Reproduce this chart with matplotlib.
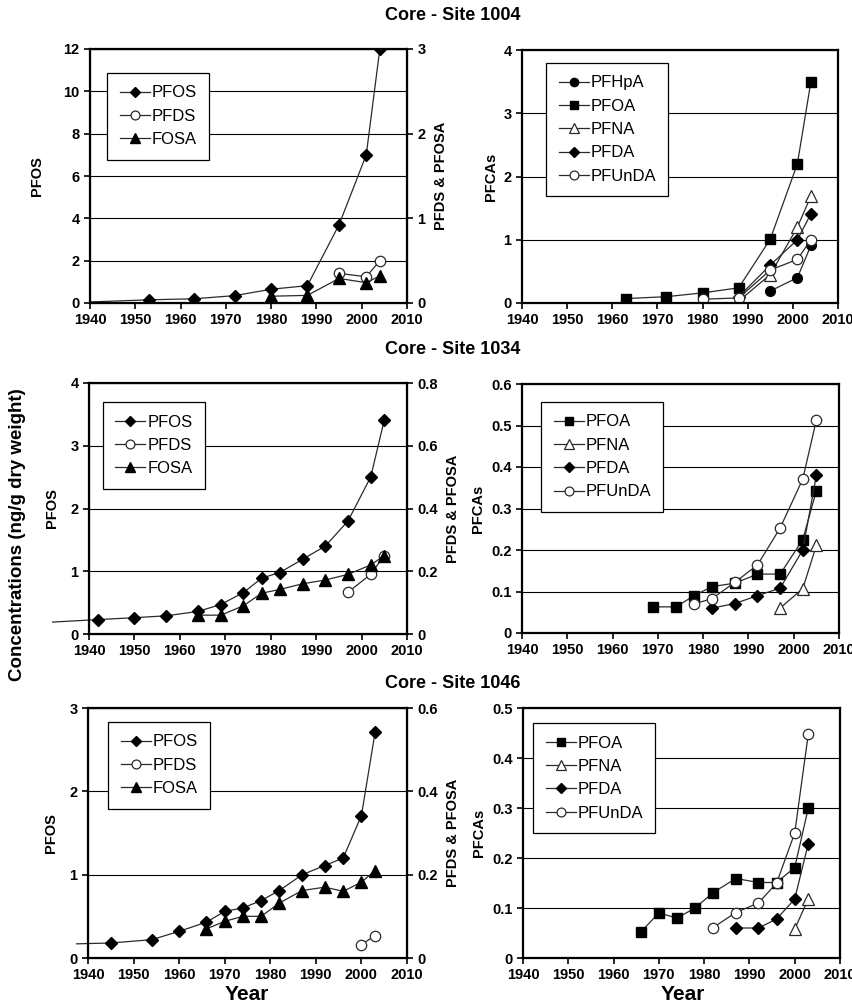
import matplotlib
matplotlib.use("Agg")
import matplotlib.pyplot as plt
from matplotlib.ticker import FuncFormatter

plt.rcParams['font.family'] = ['Liberation Sans', 'DejaVu Sans']

# ---- Site 1004 ----
yr_1004_pfos = [1953, 1963, 1972, 1980, 1988, 1995, 2001, 2004]
pfos_1004 = [0.15, 0.2, 0.35, 0.65, 0.82, 3.7, 7.0, 12.0]
lead_1004 = ([1940, 1953], [0.05, 0.15])
yr_1004_pfds = [1995, 2001, 2004]
pfds_1004 = [0.35, 0.31, 0.5]
yr_1004_fosa = [1980, 1988, 1995, 2001, 2004]
fosa_1004 = [0.08, 0.09, 0.29, 0.24, 0.32]

yr_1004_pfhpa = [1995, 2001, 2004]
pfhpa_1004 = [0.19, 0.4, 0.91]
yr_1004_pfoa = [1963, 1972, 1980, 1988, 1995, 2001, 2004]
pfoa_1004 = [0.07, 0.1, 0.16, 0.24, 1.01, 2.2, 3.5]
yr_1004_pfna = [1988, 1995, 2001, 2004]
pfna_1004 = [0.03, 0.45, 1.2, 1.69]
yr_1004_pfda = [1988, 1995, 2001, 2004]
pfda_1004 = [0.1, 0.6, 1.0, 1.41]
yr_1004_pfunda = [1980, 1988, 1995, 2001, 2004]
pfunda_1004 = [0.06, 0.08, 0.52, 0.69, 1.0]

# ---- Site 1034 ----
yr_1034_pfos = [1942, 1950, 1957, 1964, 1969, 1974, 1978, 1982, 1987, 1992, 1997, 2002, 2005]
pfos_1034 = [0.23, 0.26, 0.29, 0.36, 0.47, 0.66, 0.89, 0.98, 1.19, 1.4, 1.8, 2.5, 3.41]
lead_1034 = ([1932, 1942], [0.19, 0.23])
yr_1034_pfds = [1997, 2002, 2005]
pfds_1034 = [0.133, 0.19, 0.25]
yr_1034_fosa = [1964, 1969, 1974, 1978, 1982, 1987, 1992, 1997, 2002, 2005]
fosa_1034 = [0.06, 0.06, 0.09, 0.13, 0.142, 0.16, 0.172, 0.19, 0.22, 0.25]

yr_1034_pfoa = [1969, 1974, 1978, 1982, 1987, 1992, 1997, 2002, 2005]
pfoa_1034 = [0.063, 0.063, 0.09, 0.112, 0.12, 0.142, 0.142, 0.225, 0.343]
yr_1034_pfna = [1997, 2002, 2005]
pfna_1034 = [0.06, 0.107, 0.211]
yr_1034_pfda = [1982, 1987, 1992, 1997, 2002, 2005]
pfda_1034 = [0.06, 0.071, 0.09, 0.108, 0.2, 0.38]
yr_1034_pfunda = [1978, 1982, 1987, 1992, 1997, 2002, 2005]
pfunda_1034 = [0.07, 0.083, 0.122, 0.164, 0.253, 0.371, 0.513]

# ---- Site 1046 ----
yr_1046_pfos = [1945, 1954, 1960, 1966, 1970, 1974, 1978, 1982, 1987, 1992, 1996, 2000, 2003]
pfos_1046 = [0.18, 0.22, 0.32, 0.43, 0.56, 0.6, 0.69, 0.81, 1.0, 1.11, 1.2, 1.71, 2.71]
lead_1046 = ([1937.5, 1945], [0.17, 0.18])
yr_1046_pfds = [2000, 2003]
pfds_1046 = [0.032, 0.054]
yr_1046_fosa = [1966, 1970, 1974, 1978, 1982, 1987, 1992, 1996, 2000, 2003]
fosa_1046 = [0.07, 0.088, 0.1, 0.1, 0.132, 0.162, 0.17, 0.16, 0.182, 0.21]

yr_1046_pfoa = [1966, 1970, 1974, 1978, 1982, 1987, 1992, 1996, 2000, 2003]
pfoa_1046 = [0.052, 0.09, 0.08, 0.1, 0.131, 0.159, 0.151, 0.151, 0.181, 0.3]
yr_1046_pfna = [2000, 2003]
pfna_1046 = [0.058, 0.118]
yr_1046_pfda = [1987, 1992, 1996, 2000, 2003]
pfda_1046 = [0.06, 0.06, 0.078, 0.118, 0.229]
yr_1046_pfunda = [1982, 1987, 1992, 1996, 2000, 2003]
pfunda_1046 = [0.061, 0.091, 0.11, 0.15, 0.25, 0.448]

W, H = 853, 1008
LC = '#2a2a2a'

# marker styles
sty = {
    'PFOS':   dict(marker='D', ms=6, mfc='black', mec='black'),
    'PFDS':   dict(marker='o', ms=7.5, mfc='white', mec=LC, mew=0.9),
    'FOSA':   dict(marker='^', ms=8, mfc='black', mec='black'),
    'PFHpA':  dict(marker='o', ms=7, mfc='black', mec='black'),
    'PFOA':   dict(marker='s', ms=7.5, mfc='black', mec='black'),
    'PFNA':   dict(marker='^', ms=8, mfc='white', mec=LC, mew=0.9),
    'PFDA':   dict(marker='D', ms=6, mfc='black', mec='black'),
    'PFUnDA': dict(marker='o', ms=7.5, mfc='white', mec=LC, mew=0.9),
}


def box(x0, y0, x1, y1):
    return [x0 / W, 1 - y1 / H, (x1 - x0) / W, (y1 - y0) / H]


fmt = FuncFormatter(lambda v, p: '%g' % round(v, 3))


def style_ax(ax, ymax, ystep):
    ax.set_xlim(1940, 2010)
    ax.set_ylim(0, ymax)
    ax.set_xticks(range(1940, 2011, 10))
    n = int(round(ymax / ystep))
    ax.set_yticks([i * ystep for i in range(n + 1)])
    ax.yaxis.set_major_formatter(fmt)
    ax.grid(axis='y', color='black', lw=0.8)
    ax.set_axisbelow(True)
    for s in ax.spines.values():
        s.set_linewidth(1.6)
    ax.tick_params(direction='out', length=4, width=1.2, labelsize=10.5)
    for lab in ax.get_xticklabels() + ax.get_yticklabels():
        lab.set_fontweight('bold')


def line(ax, x, y, name, label=None):
    return ax.plot(x, y, color=LC, lw=0.9, label=label, **sty[name])[0]


def legend(ax, handles, lx, ly):
    lg = ax.legend(handles=handles, loc='upper left', bbox_to_anchor=(lx, ly),
                   borderaxespad=0, fancybox=False, edgecolor='black',
                   framealpha=1, fontsize=12, handlelength=1.8,
                   handletextpad=0.1, labelspacing=0.5, borderpad=0.75)
    lg.get_frame().set_linewidth(0.9)
    for h in lg.legend_handles:
        h.set_markersize(h.get_markersize() * 0.85)


fig = plt.figure(figsize=(W / 100, H / 100), dpi=100)


def left_panel(pos, ymax, ystep, rmax, rstep, yr_pfos, pfos, lead, yr_pfds, pfds,
               yr_fosa, fosa, lx, ly, lpad):
    ax = fig.add_axes(box(*pos))
    style_ax(ax, ymax, ystep)
    ax.plot(lead[0], lead[1], color=LC, lw=0.9, clip_on=False)
    h1 = line(ax, yr_pfos, pfos, 'PFOS', 'PFOS')
    ax2 = ax.twinx()
    ax2.set_ylim(0, rmax)
    n = int(round(rmax / rstep))
    ax2.set_yticks([i * rstep for i in range(n + 1)])
    ax2.yaxis.set_major_formatter(fmt)
    ax2.tick_params(direction='out', length=4, width=1.2, labelsize=10.5)
    for lab in ax2.get_yticklabels():
        lab.set_fontweight('bold')
    h2 = line(ax2, yr_pfds, pfds, 'PFDS', 'PFDS')
    h3 = line(ax2, yr_fosa, fosa, 'FOSA', 'FOSA')
    ax.set_ylabel('PFOS', fontsize=10.5, fontweight='bold', labelpad=lpad)
    ax2.set_ylabel('PFDS & PFOSA', fontsize=10.5, fontweight='bold', labelpad=6)
    legend(ax2, [h1, h2, h3], lx, ly)
    return ax


def right_panel(pos, ymax, ystep, series, lx, ly):
    ax = fig.add_axes(box(*pos))
    style_ax(ax, ymax, ystep)
    hs = []
    for name, x, y in series:
        hs.append(line(ax, x, y, name, name))
    ax.set_ylabel('PFCAs', fontsize=10.5, fontweight='bold', labelpad=4)
    legend(ax, hs, lx, ly)
    return ax


left_panel((90, 49, 407, 303), 12, 2, 3, 1, yr_1004_pfos, pfos_1004, lead_1004,
           yr_1004_pfds, pfds_1004, yr_1004_fosa, fosa_1004, 0.054, 0.906, 14)
right_panel((522, 50, 838, 303), 4, 1,
            [('PFHpA', yr_1004_pfhpa, pfhpa_1004),
             ('PFOA', yr_1004_pfoa, pfoa_1004),
             ('PFNA', yr_1004_pfna, pfna_1004),
             ('PFDA', yr_1004_pfda, pfda_1004),
             ('PFUnDA', yr_1004_pfunda, pfunda_1004)], 0.076, 0.949)

left_panel((89, 383, 407, 634), 4, 1, 0.8, 0.2, yr_1034_pfos, pfos_1034, lead_1034,
           yr_1034_pfds, pfds_1034, yr_1034_fosa, fosa_1034, 0.044, 0.924, 8)
right_panel((522, 384, 839, 633), 0.6, 0.1,
            [('PFOA', yr_1034_pfoa, pfoa_1034),
             ('PFNA', yr_1034_pfna, pfna_1034),
             ('PFDA', yr_1034_pfda, pfda_1034),
             ('PFUnDA', yr_1034_pfunda, pfunda_1034)], 0.06, 0.928)

left_panel((88, 708, 407, 958), 3, 1, 0.6, 0.2, yr_1046_pfos, pfos_1046, lead_1046,
           yr_1046_pfds, pfds_1046, yr_1046_fosa, fosa_1046, 0.063, 0.944, 8)
right_panel((523, 708, 840, 958), 0.5, 0.1,
            [('PFOA', yr_1046_pfoa, pfoa_1046),
             ('PFNA', yr_1046_pfna, pfna_1046),
             ('PFDA', yr_1046_pfda, pfda_1046),
             ('PFUnDA', yr_1046_pfunda, pfunda_1046)], 0.032, 0.94)

for title, y in [('Core - Site 1004', 16), ('Core - Site 1034', 350), ('Core - Site 1046', 684)]:
    fig.text(453 / W, 1 - y / H, title, ha='center', va='center',
             fontsize=13, fontweight='bold')

fig.text(18 / W, 1 - 535 / H, 'Concentrations (ng/g dry weight)', rotation=90,
         ha='center', va='center', fontsize=13.5, fontweight='bold')
for x in (247, 683):
    fig.text(x / W, 1 - 995 / H, 'Year', ha='center', va='center',
             fontsize=15, fontweight='bold')

fig.savefig('out.png', dpi=100)
